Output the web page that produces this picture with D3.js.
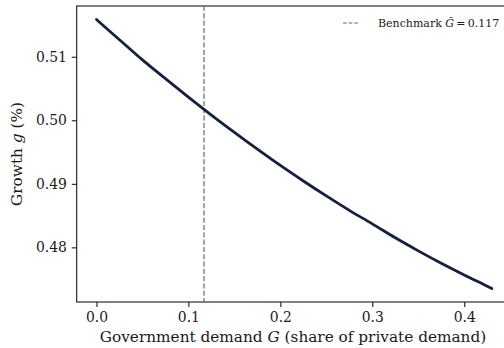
<!DOCTYPE html>
<html>
<head>
<meta charset="utf-8">
<script src="https://cdn.jsdelivr.net/npm/d3@7"></script>
<style>
  html, body { margin: 0; padding: 0; background: #fff; }
  svg { display: block; font-family: "DejaVu Serif", serif; }
</style>
</head>
<body>
<svg id="chart" width="504" height="348"></svg>
<script>
// Government demand share G and the resulting growth rate g (%)
const govShare = [0, 0.025, 0.05, 0.075, 0.1, 0.125, 0.15, 0.175, 0.2, 0.225,
                  0.25, 0.275, 0.3, 0.325, 0.35, 0.375, 0.4, 0.425, 0.43];
const growth = [0.51586, 0.51268, 0.50950, 0.50655, 0.50366, 0.50083, 0.49810,
                0.49545, 0.49289, 0.49045, 0.48810, 0.48583, 0.48370, 0.48150,
                0.47945, 0.47750, 0.47565, 0.47388, 0.47352];
const benchmarkG = 0.117;
const xTicks = [0.0, 0.1, 0.2, 0.3, 0.4];
const yTicks = [0.48, 0.49, 0.50, 0.51];

const svg = d3.select("#chart");
const plot = { left: 76.7, right: 511.6, top: 6, bottom: 302 };

const x = d3.scaleLinear().domain([-0.0215, 0.4515]).range([plot.left, plot.right]);
const y = d3.scaleLinear().domain([0.4714, 0.51799]).range([plot.bottom, plot.top]);

// Frame
svg.append("rect")
  .attr("x", plot.left).attr("y", plot.top)
  .attr("width", plot.right - plot.left).attr("height", plot.bottom - plot.top)
  .attr("fill", "none").attr("stroke", "#1a1a1a").attr("stroke-width", 1.1);

// Axes
const xAxis = svg.append("g")
  .attr("transform", `translate(0,${plot.bottom})`)
  .call(d3.axisBottom(x).tickValues(xTicks).tickFormat(d3.format(".1f"))
        .tickSizeInner(4.9).tickSizeOuter(0).tickPadding(4.9));
const yAxis = svg.append("g")
  .attr("transform", `translate(${plot.left},0)`)
  .call(d3.axisLeft(y).tickValues(yTicks).tickFormat(d3.format(".2f"))
        .tickSizeInner(4.9).tickSizeOuter(0).tickPadding(4.9));
[xAxis, yAxis].forEach(g => {
  g.select(".domain").remove();
  g.selectAll("text").attr("font-family", "DejaVu Serif, serif")
    .attr("font-size", 13.9).attr("fill", "#1a1a1a");
  g.selectAll("line").attr("stroke", "#1a1a1a").attr("stroke-width", 1.1);
});

// Benchmark marker
svg.append("line")
  .attr("x1", x(benchmarkG)).attr("x2", x(benchmarkG))
  .attr("y1", plot.top).attr("y2", plot.bottom)
  .attr("stroke", "#5b6b86").attr("stroke-width", 1.2)
  .attr("stroke-dasharray", "5.1,2.2");

// Growth curve
const line = d3.line().x((d, i) => x(govShare[i])).y(d => y(d)).curve(d3.curveMonotoneX);
svg.append("path")
  .datum(growth)
  .attr("d", line)
  .attr("fill", "none")
  .attr("stroke", "#14213d")
  .attr("stroke-width", 2.8)
  .attr("stroke-linecap", "round");

// Axis labels
const xl = svg.append("text")
  .attr("x", 293).attr("y", 342)
  .attr("text-anchor", "middle").attr("font-size", 15.3).attr("fill", "#1a1a1a");
xl.append("tspan").text("Government demand ");
xl.append("tspan").attr("font-style", "italic").text("G");
xl.append("tspan").text(" (share of private demand)");

const yl = svg.append("text")
  .attr("transform", `translate(22,${(plot.top + plot.bottom) / 2}) rotate(-90)`)
  .attr("text-anchor", "middle").attr("font-size", 15.3).attr("fill", "#1a1a1a");
yl.append("tspan").text("Growth ");
yl.append("tspan").attr("font-style", "italic").text("g");
yl.append("tspan").text(" (%)");

// Legend
const legend = svg.append("g");
legend.append("line")
  .attr("x1", 343).attr("x2", 358).attr("y1", 23).attr("y2", 23)
  .attr("stroke", "#5b6b86").attr("stroke-width", 1.2)
  .attr("stroke-dasharray", "3.8,1.8");
const lt = legend.append("text")
  .attr("x", 378).attr("y", 26.7).attr("font-size", 11).attr("fill", "#1a1a1a");
lt.append("tspan").text("Benchmark ");
lt.append("tspan").attr("font-style", "italic").text("G\u0303");
lt.append("tspan").text("\u2009=\u20090.117");
</script>
</body>
</html>
